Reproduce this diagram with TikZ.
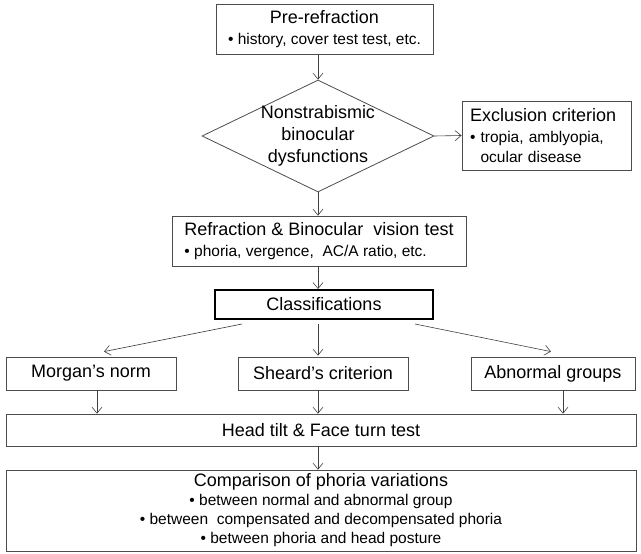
\documentclass[tikz,border=0pt]{standalone}
\usepackage{fontspec}
\setmainfont{Liberation Sans}
\usetikzlibrary{arrows.meta,calc,shapes.geometric}

\newcommand{\titlefont}{\fontsize{18}{22}\selectfont}
\newcommand{\itemfont}{\fontsize{15.5}{20}\selectfont}

\tikzset{
  box/.style={draw=black!70, line width=0.8pt, inner sep=0pt, align=center, font=\itemfont},
  classbox/.style={draw=black, line width=2pt, inner sep=0pt, font=\titlefont},
  flow/.style={-{Straight Barb[length=6pt,width=10pt]}, draw=black!75, line width=0.6pt},
}

\begin{document}
\begin{tikzpicture}[x=1pt,y=-1pt]
  \useasboundingbox (0,0) rectangle (641,554);
  \coordinate (axis) at (318,0);

  % Pre-refraction
  \node[box, minimum width=217pt, minimum height=50pt] (pre) at (324.5,29.5)
    {{\titlefont Pre-refraction}\\[1pt]\textbullet\ history, cover test test, etc.};

  % Decision
  \node[diamond, draw=black!70, line width=0.8pt, minimum width=232pt, minimum height=112pt, inner sep=0pt] (dys) at (318,136) {};
  \node[align=center, font=\titlefont] (dystxt) at (dys.center) {Nonstrabismic\\binocular\\dysfunctions};

  % Exclusion
  \node[box, align=left, text width=153pt, inner xsep=8pt, minimum height=69pt] (excl) at (546.5,135.5)
    {{\titlefont Exclusion criterion}\\[1pt]\textbullet\ tropia, amblyopia,\\\phantom{\textbullet\ }ocular disease};

  % Refraction
  \node[box, align=left, minimum width=294pt, minimum height=50pt] (refr) at (319,241)
    {{\titlefont Refraction \& Binocular\ \ vision test}\\[1pt]\textbullet\ phoria, vergence,\ \ AC/A ratio, etc.};

  % Classifications
  \node[classbox, minimum width=218pt, minimum height=29pt] (cls) at (324,304.5) {Classifications};

  % Groups
  \node[box, font=\titlefont, minimum width=170pt, minimum height=33pt] (morgan) at (91,373.5) {Morgan's norm};
  \node[box, font=\titlefont, minimum width=170pt, minimum height=33pt] (sheard) at (323,373.5) {Sheard's criterion};
  \node[box, font=\titlefont, minimum width=164pt, minimum height=33pt] (abn) at (553,373.5) {Abnormal groups};

  % Head tilt
  \node[box, font=\titlefont, minimum width=630pt, minimum height=32pt] (head) at (321,430) {Head tilt \& Face turn test};

  % Comparison
  \node[box, minimum width=630pt, minimum height=81pt] (comp) at (321,510.5)
    {{\titlefont Comparison of phoria variations}\\[-1pt]
     \textbullet\ between normal and abnormal group\\[-1pt]
     \textbullet\ between\ \ compensated and decompensated phoria\\[-1pt]
     \textbullet\ between phoria and head posture};

  % Arrows
  \draw[flow] (pre.south -| axis) -- (dys.north);
  \draw[flow] (dys.east) -- (excl.west);
  \draw[flow] (dys.south) -- (axis |- refr.north);
  \draw[flow] (axis |- refr.south) -- (axis |- cls.north);

  \draw[flow] ($(cls.south west)+(28,4)$) -- ($(morgan.north)+(13,-5)$);
  \draw[flow] ($(axis |- cls.south)+(0,4)$) -- ($(axis |- sheard.north)+(0,-1)$);
  \draw[flow] ($(cls.south east)+(-19,4)$) -- ($(abn.north)+(-2,-5)$);

  \coordinate (m) at ($(morgan.south)+(6,0)$);
  \coordinate (s) at (axis |- sheard.south);
  \coordinate (a) at ($(abn.south)+(10,0)$);
  \draw[flow] (m) -- (m |- head.north);
  \draw[flow] (s) -- (s |- head.north);
  \draw[flow] (a) -- (a |- head.north);

  \draw[flow] (axis |- head.south) -- (axis |- comp.north);
\end{tikzpicture}
\end{document}
